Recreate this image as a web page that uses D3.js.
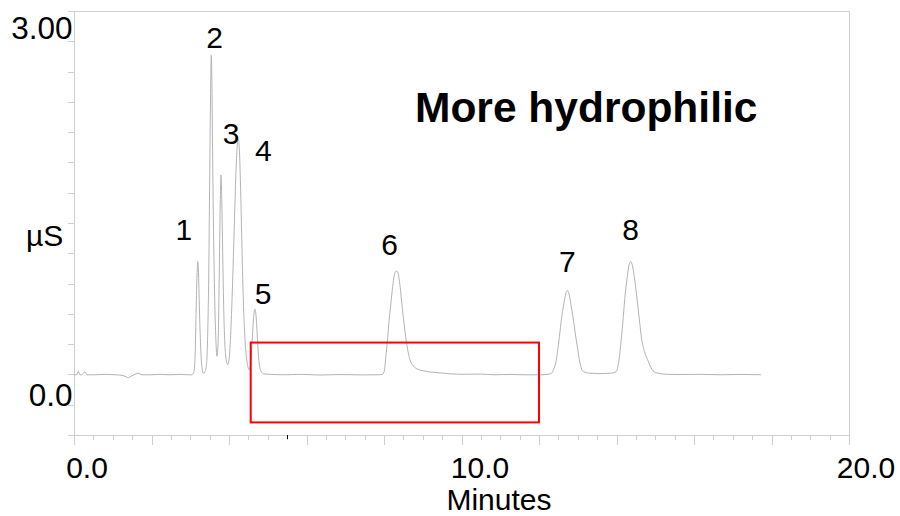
<!DOCTYPE html>
<html>
<head>
<meta charset="utf-8">
<script src="https://cdn.jsdelivr.net/npm/d3@7"></script>
<style>
  html, body { margin: 0; padding: 0; background: #fff; }
  svg { display: block; }
  text { font-family: "Liberation Sans", Arial, Helvetica, sans-serif; fill: #000; }
</style>
</head>
<body>
<svg id="chart" width="900" height="516"></svg>
<script>
// Conductivity trace: retention time (min) and signal (µS)
const times = [
  0.000, 0.065, 0.111, 0.155, 0.219, 0.284, 0.335, 0.542, 0.800, 1.058,
  1.239, 1.342, 1.406, 1.471, 1.548, 1.652, 1.755, 1.961, 2.219, 2.477,
  2.735, 2.942, 3.045,
  3.095, 3.126, 3.152, 3.175, 3.195, 3.215, 3.241, 3.272, 3.303, 3.342, 3.381,
  3.419, 3.453, 3.479, 3.499, 3.517, 3.533, 3.543, 3.556, 3.574, 3.597, 3.626, 3.657, 3.690,
  3.721, 3.747, 3.773, 3.794, 3.814, 3.840, 3.871, 3.912, 3.966,
  4.013, 4.059, 4.103, 4.145, 4.181, 4.214, 4.240, 4.266, 4.297, 4.330, 4.369, 4.413, 4.465, 4.524,
  4.568, 4.606, 4.640, 4.671, 4.702, 4.735, 4.774, 4.826, 4.903, 5.058,
  5.445, 5.832, 6.348, 6.865, 7.381, 7.845,
  7.966, 8.013, 8.052, 8.085, 8.129, 8.173, 8.214, 8.253, 8.292, 8.328, 8.361, 8.400, 8.439,
  8.477, 8.521, 8.563, 8.612, 8.671, 8.756, 8.877, 9.014, 9.187, 9.368, 9.703, 10.090,
  10.477, 10.865, 11.252, 11.639, 12.026, 12.232,
  12.328, 12.374, 12.431, 12.485, 12.542, 12.594, 12.645, 12.689, 12.730, 12.774, 12.818,
  12.872, 12.929, 12.994, 13.058, 13.143, 13.316, 13.574, 13.876,
  13.987, 14.065, 14.121, 14.176, 14.227, 14.279, 14.323, 14.366, 14.413, 14.459, 14.521,
  14.581, 14.645, 14.723, 14.805, 14.890, 14.994, 15.295, 15.639, 16.155, 16.671, 17.187, 17.729
];
const signal = [
  0.247, 0.247, 0.276, 0.247, 0.251, 0.272, 0.247, 0.247, 0.251, 0.247,
  0.243, 0.231, 0.223, 0.235, 0.247, 0.260, 0.247, 0.247, 0.251, 0.247,
  0.251, 0.247, 0.247,
  0.272, 0.412, 0.783, 1.071, 1.181, 1.071, 0.742, 0.453, 0.305, 0.260, 0.272,
  0.330, 0.618, 1.113, 1.772, 2.349, 2.761, 2.885, 2.720, 2.184, 1.525, 0.948, 0.577, 0.400,
  0.536, 1.030, 1.648, 1.896, 1.690, 1.195, 0.701, 0.412, 0.330,
  0.412, 0.701, 1.113, 1.566, 1.937, 2.143, 2.192, 2.118, 1.813, 1.360, 0.865, 0.536, 0.354, 0.288,
  0.371, 0.577, 0.742, 0.789, 0.717, 0.536, 0.354, 0.276, 0.255, 0.251,
  0.247, 0.251, 0.245, 0.249, 0.246, 0.247,
  0.251, 0.288, 0.412, 0.513, 0.684, 0.824, 0.948, 1.047, 1.096, 1.104, 1.088, 1.014, 0.907,
  0.783, 0.659, 0.552, 0.453, 0.371, 0.321, 0.292, 0.280, 0.270, 0.265, 0.255, 0.251,
  0.253, 0.247, 0.250, 0.247, 0.247, 0.251,
  0.261, 0.288, 0.344, 0.453, 0.604, 0.742, 0.838, 0.915, 0.942, 0.915, 0.838,
  0.734, 0.604, 0.470, 0.344, 0.274, 0.260, 0.257, 0.261,
  0.272, 0.371, 0.536, 0.728, 0.923, 1.057, 1.154, 1.181, 1.146, 1.057, 0.898,
  0.728, 0.552, 0.437, 0.371, 0.305, 0.268, 0.251, 0.249, 0.251, 0.247, 0.250, 0.247
];

// Numbered peaks (apex time and height)
const peakIds = ["1", "2", "3", "4", "5", "6", "7", "8"];
const peakTimes = [3.195, 3.543, 3.794, 4.240, 4.671, 8.328, 12.730, 14.366];
const peakHeights = [1.181, 2.885, 1.896, 2.192, 0.789, 1.104, 0.942, 1.181];

// Axis labels
const xTickValues = [0, 10, 20];
const xTickLabels = ["0.0", "10.0", "20.0"];
const yTickValues = [3.0, 0.0];
const yTickLabels = ["3.00", "0.0"];
const xTitle = "Minutes";
const yTitle = "µS";
const noteText = "More hydrophilic";

// Highlighted region (time range, signal range) and cursor mark
const boxTimes = [4.56, 12.0];
const boxSignal = [-0.146, 0.513];
const cursorTime = 5.5;

// ---- layout ----
const svg = d3.select("#chart");
const axisColor = "#cfcfcf";
const traceColor = "#b3b3b3";

const x = d3.scaleLinear().domain([0, 20]).range([74, 849]);
const y = d3.scaleLinear().domain([-0.25, 3.25]).range([435, 11]);

// plot frame: top and right edges
svg.append("line")
  .attr("x1", x(0)).attr("x2", x(20)).attr("y1", y(3.25) + 0.5).attr("y2", y(3.25) + 0.5)
  .attr("stroke", axisColor).attr("shape-rendering", "crispEdges");
svg.append("line")
  .attr("x1", x(20) + 0.5).attr("x2", x(20) + 0.5).attr("y1", y(3.25)).attr("y2", y(-0.25))
  .attr("stroke", axisColor).attr("shape-rendering", "crispEdges");

function styleAxis(g, keepDomain) {
  g.selectAll("path.domain").attr("stroke", axisColor).attr("shape-rendering", "crispEdges");
  if (!keepDomain) g.select("path.domain").remove();
  g.selectAll(".tick line").attr("stroke", axisColor).attr("shape-rendering", "crispEdges");
  g.selectAll(".tick text").remove();
}

// x axis: half-minute minor ticks, 2-minute major ticks
svg.append("g")
  .attr("transform", `translate(0,${y(-0.25)})`)
  .call(d3.axisBottom(x).tickValues(d3.range(0, 20.001, 0.5)).tickSize(5).tickSizeOuter(0).tickFormat(""))
  .call(g => styleAxis(g, true));
svg.append("g")
  .attr("transform", `translate(0,${y(-0.25)})`)
  .call(d3.axisBottom(x).tickValues(d3.range(0, 20.001, 2)).tickSize(10).tickSizeOuter(0).tickFormat(""))
  .call(g => styleAxis(g, false));

// y axis
svg.append("g")
  .attr("transform", `translate(${x(0)},0)`)
  .call(d3.axisLeft(y).tickValues(d3.range(-0.25, 3.2501, 0.25)).tickSize(6).tickSizeOuter(0).tickFormat(""))
  .call(g => styleAxis(g, true));

// cursor mark on the time axis
svg.append("line")
  .attr("x1", Math.round(x(cursorTime)) + 0.5).attr("x2", Math.round(x(cursorTime)) + 0.5)
  .attr("y1", y(-0.25)).attr("y2", y(-0.25) + 4)
  .attr("stroke", "#000").attr("shape-rendering", "crispEdges");

// tick labels
const xLabelShift = [13, 18.5, 17];
svg.selectAll("text.xlab").data(xTickValues).join("text")
  .attr("class", "xlab")
  .attr("x", (d, i) => x(d) + xLabelShift[i])
  .attr("y", 478)
  .attr("text-anchor", "middle")
  .attr("font-size", 30)
  .text((d, i) => xTickLabels[i]);

const yLabelShift = [-2.7, 1.7];
svg.selectAll("text.ylab").data(yTickValues).join("text")
  .attr("class", "ylab")
  .attr("x", 72.5)
  .attr("y", (d, i) => y(d) + yLabelShift[i])
  .attr("text-anchor", "end")
  .attr("font-size", 31.5)
  .text((d, i) => yTickLabels[i]);

// axis titles
svg.append("text").attr("x", 499).attr("y", 509.5).attr("text-anchor", "middle")
  .attr("font-size", 30).text(xTitle);
svg.append("text").attr("x", 26).attr("y", 246).attr("text-anchor", "start")
  .attr("font-size", 30).text(yTitle);

// trace
const pts = times.map((t, i) => [t, signal[i]]);
svg.append("path")
  .datum(pts)
  .attr("fill", "none")
  .attr("stroke", traceColor)
  .attr("stroke-width", 1)
  .attr("stroke-linejoin", "round")
  .attr("d", d3.line().x(d => x(d[0])).y(d => y(d[1])).curve(d3.curveMonotoneX));

// highlighted region
svg.append("rect")
  .attr("x", x(boxTimes[0]))
  .attr("y", y(boxSignal[1]))
  .attr("width", x(boxTimes[1]) - x(boxTimes[0]))
  .attr("height", y(boxSignal[0]) - y(boxSignal[1]))
  .attr("fill", "none")
  .attr("stroke", "#ff0000")
  .attr("stroke-width", 2);

// peak numbers (pixel offsets from each apex)
const peakLabelOffsets = [[-14, -22], [3.4, -7.7], [10, -31], [25, 22], [8, -5], [-7, -16], [0, -19], [0, -22]];
svg.selectAll("text.peak").data(peakIds).join("text")
  .attr("class", "peak")
  .attr("x", (d, i) => x(peakTimes[i]) + peakLabelOffsets[i][0])
  .attr("y", (d, i) => y(peakHeights[i]) + peakLabelOffsets[i][1])
  .attr("text-anchor", "middle")
  .attr("font-size", 30)
  .text(d => d);

// annotation
svg.append("text")
  .attr("x", 415).attr("y", 122)
  .attr("font-size", 42.5)
  .attr("font-weight", "bold")
  .text(noteText);
</script>
</body>
</html>
